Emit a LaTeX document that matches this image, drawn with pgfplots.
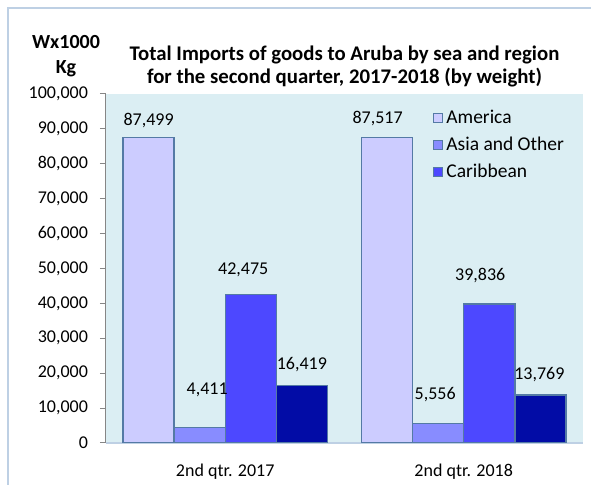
\documentclass[border=0pt]{standalone}
\usepackage{pgfplots}
\usepackage{pgfplotstable}
\pgfplotsset{compat=1.18}
\usepackage{fontspec}
\setmainfont{Carlito}

\definecolor{bgblue}{RGB}{219,238,243}
\definecolor{edgeblue}{RGB}{84,122,165}
\definecolor{america}{RGB}{204,204,255}
\definecolor{asia}{RGB}{136,140,255}
\definecolor{carib}{RGB}{77,72,255}
\definecolor{navy}{RGB}{2,12,166}
\definecolor{framec}{RGB}{190,208,228}
\definecolor{axisgrey}{RGB}{134,134,134}

% x y  label shift (pt)
\pgfplotstableread{
x y dx dy
0 87499 0 8.5
1 87517 -4.75 9.5
}\tabAmerica
\pgfplotstableread{
x y dx dy
0 4411 3.75 19
1 5556 -1.5 14.5
}\tabAsia
\pgfplotstableread{
x y dx dy
0 42475 -3.75 12.5
1 39836 -4.5 14
}\tabCarib
\pgfplotstableread{
x y dx dy
0 16419 0 10.5
1 13769 -0.5 10
}\tabOther

\pgfplotsset{
    labelled/.style={
        nodes near coords,
        visualization depends on={\thisrow{dx}\as\dx},
        visualization depends on={\thisrow{dy}\as\dy},
        every node near coord/.append style={font=\fontsize{9}{11}\selectfont, text=black,
            anchor=center, xshift=\dx, yshift=\dy},
    },
}

\begin{document}
\begin{tikzpicture}
\useasboundingbox (0,0) rectangle (295.5pt,242.5pt);
\draw[framec, line width=0.8pt] (4pt,0) -- (4pt,238.5pt) -- (295.5pt,238.5pt);
\begin{axis}[
    at={(53pt,21pt)}, anchor=south west,
    scale only axis, width=238.5pt, height=174.5pt,
    ybar=0pt, bar width=0.2143,
    xmin=-0.5, xmax=1.5, ymin=0, ymax=100000,
    xtick={0,1}, xticklabels={2nd qtr. 2017, 2nd qtr. 2018},
    ytick={0,10000,...,100000},
    scaled y ticks=false,
    /pgf/number format/.cd, fixed, precision=0, 1000 sep={,}, assume math mode=true,
    /pgfplots/.cd,
    axis background/.style={fill=bgblue},
    axis x line*=bottom, axis y line*=left,
    x axis line style={draw=framec, line width=0.8pt},
    y axis line style={draw=axisgrey, line width=0.5pt},
    major x tick style={draw=none},
    y tick style={draw=axisgrey, line width=0.5pt},
    tick align=outside, major tick length=3pt,
    tick label style={font=\fontsize{9}{11}\selectfont},
    yticklabel style={xshift=-2.5pt},
    xticklabel style={yshift=-4pt},
    title={Total Imports of goods to Aruba by sea and region\\for the second quarter, 2017-2018 (by weight)},
    title style={font=\bfseries\fontsize{10.4}{11.8}\selectfont, align=center,
        at={(0.5,1)}, anchor=center, yshift=7.75pt},
    legend image code/.code={\draw[#1, line width=0.5pt] (0pt,-2.25pt) rectangle (4.5pt,2.25pt);},
    legend style={draw=none, fill=none, at={(0.6855,0.966)}, anchor=north west,
        inner sep=0pt, row sep=1.5pt, font=\fontsize{9.75}{11}\selectfont,
        nodes={inner sep=1.5pt, text height=7pt, text depth=2pt}},
    legend cell align=left,
    every axis plot/.append style={draw=edgeblue, line width=0.7pt},
]
\addplot[fill=america, bar shift=-0.3214, labelled] table[x=x, y=y] {\tabAmerica};
\addlegendentry{America}
\addplot[fill=asia, bar shift=-0.1071, labelled] table[x=x, y=y] {\tabAsia};
\addlegendentry{Asia and Other}
\addplot[fill=carib, bar shift=0.1071, labelled] table[x=x, y=y] {\tabCarib};
\addlegendentry{Caribbean}
\addplot[fill=navy, bar shift=0.3214, labelled] table[x=x, y=y] {\tabOther};
\end{axis}
\node[font=\bfseries\fontsize{10}{12.5}\selectfont, align=center] at (33pt,214.25pt) {Wx1000\\Kg};
\end{tikzpicture}
\end{document}
